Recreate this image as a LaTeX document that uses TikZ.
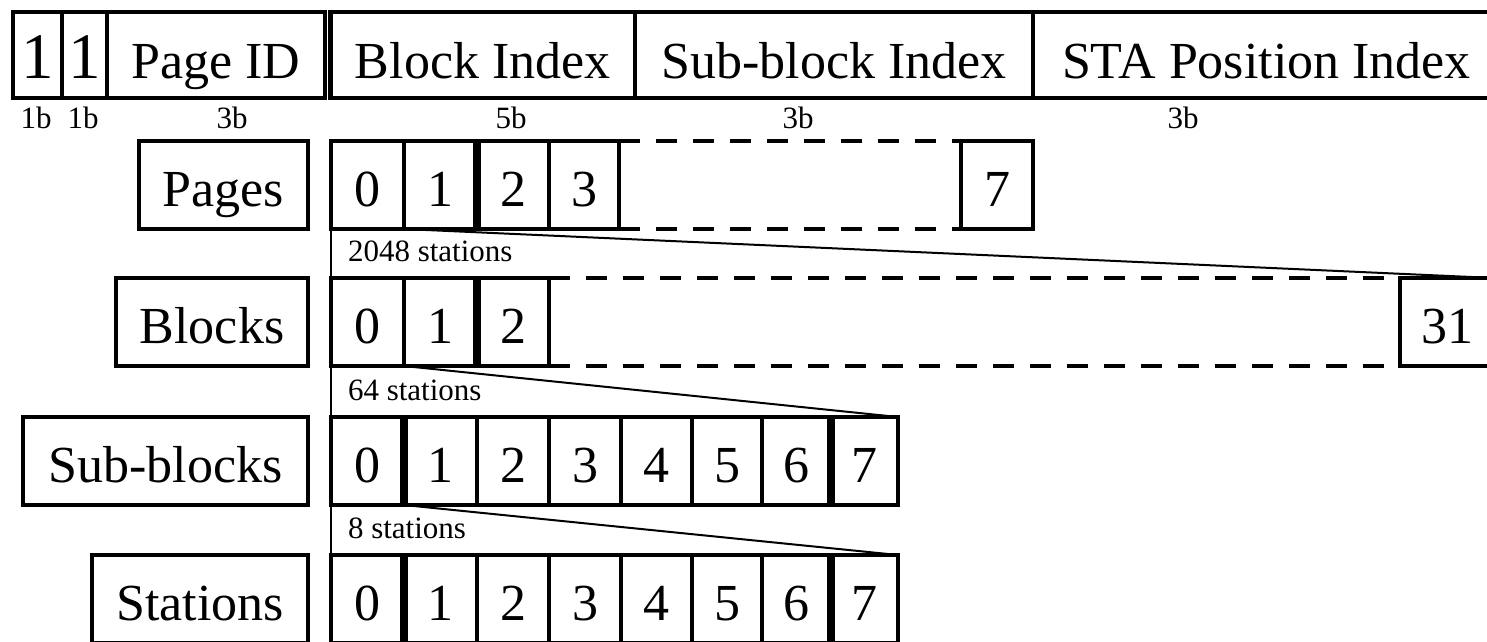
\documentclass[tikz,border=0pt]{standalone}
\usepackage{fontspec}
\setmainfont{Liberation Serif}
\newcommand\bigtxt{\fontsize{52}{60}\selectfont}
\newcommand\hugetxt{\fontsize{65}{72}\selectfont}
\newcommand\smalltxt{\fontsize{31}{36}\selectfont}
\begin{document}
\begin{tikzpicture}[x=1pt,y=-1pt,
  box/.style={draw, line width=4.5pt, inner sep=0pt, outer sep=0pt,
    font=\bigtxt, text height=42pt, text depth=0pt, minimum height=88pt},
  headbox/.style={box, text height=46pt, minimum height=86pt},
  seam/.style={line width=7.5pt},
  gapline/.style={line width=4.5pt, dash pattern=on 21pt off 16pt},
  link/.style={line width=2pt},
  note/.style={font=\smalltxt, inner sep=0pt, outer sep=0pt}]
\clip (0,0) rectangle (1487,641);

% address fields
\node[headbox, font=\hugetxt, minimum width=49pt] (h1) at (37.5,55) {1};
\node[headbox, font=\hugetxt, minimum width=45pt] (h2) at (84.5,55) {1};
\node[headbox, minimum width=218pt] (hpid) at (216,55) {Page ID};
\node[headbox, minimum width=304.5pt] (hblk) at (482.75,55) {Block Index};
\node[headbox, minimum width=398pt] (hsub) at (834,55) {Sub-block Index};
\node[headbox, minimum width=467pt] (hsta) at (1266.5,55) {STA Position Index};

% field widths
\node[note, anchor=base] (w1) at (36,128) {1b};
\node[note, anchor=base] (w2) at (83,128) {1b};
\node[note, anchor=base] (w3) at (232,128) {3b};
\node[note, anchor=base] (w4) at (511,128) {5b};
\node[note, anchor=base] (w5) at (798,128) {3b};
\node[note, anchor=base] (w6) at (1183,128) {3b};

% pages
\node[box, minimum width=169pt] (lp) at (223.5,185) {Pages};
\node[box, minimum width=73pt] (p0) at (367.5,185) {0};
\node[box, minimum width=73pt] (p1) at (440.5,185) {1};
\node[box, minimum width=72pt] (p2) at (513,185) {2};
\node[box, minimum width=70pt] (p3) at (584,185) {3};
\node[box, minimum width=72pt] (p7) at (997,185) {7};

% blocks
\node[box, minimum width=192pt] (lb) at (212,322) {Blocks};
\node[box, minimum width=73pt] (b0) at (367.5,322) {0};
\node[box, minimum width=73pt] (b1) at (440.5,322) {1};
\node[box, minimum width=72pt] (b2) at (513,322) {2};
\node[box, minimum width=94pt] (b31) at (1447,322) {31};

% sub-blocks and stations
\node[box, minimum width=285pt] (ls) at (165.5,461) {Sub-blocks};
\node[box, minimum width=216pt] (lt) at (200,599) {Stations};
\foreach \i/\xl/\xr in {0/331/404,1/404/477,2/477/549,3/549/621,4/621/692,5/692/762,6/762/831,7/831/898} {
  \node[box, minimum width={\xr-\xl}] (s\i) at ({(\xl+\xr)/2},461) {\i};
  \node[box, minimum width={\xr-\xl}] (t\i) at ({(\xl+\xr)/2},599) {\i};
}

% doubled cell borders
\draw[seam] (p1.north east) -- (p1.south east);
\draw[seam] (b1.north east) -- (b1.south east);
\draw[seam] (s0.north east) -- (s0.south east);
\draw[seam] (s6.north east) -- (s6.south east);
\draw[seam] (t0.north east) -- (t0.south east);
\draw[seam] (t6.north east) -- (t6.south east);

% omitted cells
\draw[gapline] (p3.north east) -- (p7.north west);
\draw[gapline] (p3.south east) -- (p7.south west);
\draw[gapline] (b2.north east) -- (b31.north west);
\draw[gapline] (b2.south east) -- (b31.south west);

% expansion of cell 0 into the next level
\draw[link] (p0.south west) -- (b0.north west);
\draw[link] (p0.south east) -- (b31.north east);
\draw[link] (b0.south west) -- (s0.north west);
\draw[link] (b0.south east) -- (s7.north east);
\draw[link] (s0.south west) -- (t0.north west);
\draw[link] (s0.south east) -- (t7.north east);

\node[note, anchor=base west] (n1) at (348,261) {2048 stations};
\node[note, anchor=base west] (n2) at (348,400) {64 stations};
\node[note, anchor=base west] (n3) at (348,538) {8 stations};
\end{tikzpicture}
\end{document}
